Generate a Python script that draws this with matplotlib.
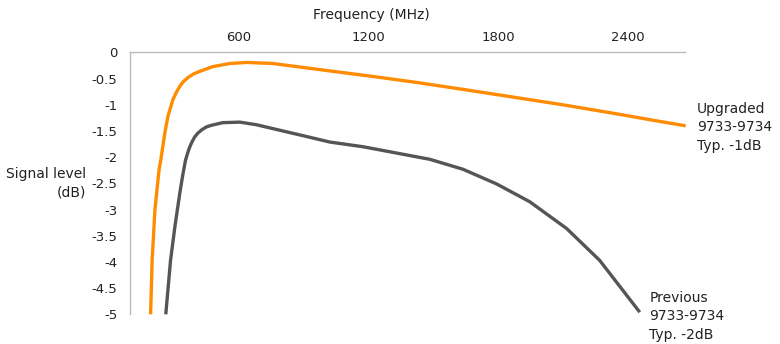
import matplotlib
matplotlib.use("Agg")
import matplotlib.pyplot as plt

# readings (MHz, dB)
upgraded_freq = [195, 202, 215, 234, 242, 261, 275, 298, 314, 330, 345, 367, 393,
                 422, 482, 561, 639, 759, 1000, 1207, 1420, 1622, 1850, 2100,
                 2330, 2545, 2665]
upgraded_db = [-5.0, -3.97, -3.0, -2.24, -2.05, -1.53, -1.22, -0.90, -0.76, -0.645,
               -0.56, -0.48, -0.41, -0.36, -0.27, -0.21, -0.19, -0.21, -0.34, -0.45,
               -0.57, -0.695, -0.84, -1.0, -1.16, -1.316, -1.40]

previous_freq = [265, 287, 307, 330, 343, 356, 366, 376, 387, 399, 413, 430, 453,
                 476, 528, 607, 684, 776, 900, 1022, 1176, 1330, 1484, 1637, 1792,
                 1945, 2115, 2268, 2453]
previous_db = [-5.0, -3.97, -3.33, -2.68, -2.35, -2.06, -1.92, -1.80, -1.70, -1.61,
               -1.54, -1.48, -1.42, -1.39, -1.34, -1.33, -1.38, -1.47, -1.59, -1.71,
               -1.80, -1.92, -2.04, -2.23, -2.51, -2.85, -3.36, -3.97, -4.96]

x_ticks = [600, 1200, 1800, 2400]
y_ticks = [0, -0.5, -1, -1.5, -2, -2.5, -3, -3.5, -4, -4.5, -5]
y_tick_labels = ["0", "-0.5", "-1", "-1.5", "-2", "-2.5", "-3", "-3.5", "-4", "-4.5", "-5"]

orange = "#ff8c00"
grey = "#555555"
fs = 9.5

fig = plt.figure(figsize=(7.8, 3.44), dpi=100)
ax = fig.add_axes([0.1667, 0.0863, 0.711, 0.7611])

ax.plot(upgraded_freq, upgraded_db, color=orange, lw=2.4, clip_on=False,
        solid_capstyle="butt", solid_joinstyle="round")
ax.plot(previous_freq, previous_db, color=grey, lw=2.4, clip_on=False,
        solid_capstyle="butt", solid_joinstyle="round")

ax.set_xlim(100, 2660)
ax.set_ylim(-5, 0)

ax.xaxis.tick_top()
ax.set_xticks(x_ticks)
ax.set_xticklabels([str(t) for t in x_ticks], fontsize=fs, color="#222222")
ax.set_yticks(y_ticks)
ax.set_yticklabels(y_tick_labels, fontsize=fs, color="#222222")
ax.tick_params(axis="both", length=0)
ax.tick_params(axis="x", pad=6)
ax.tick_params(axis="y", pad=9)

for side in ["right", "bottom"]:
    ax.spines[side].set_visible(False)
for side in ["top", "left"]:
    ax.spines[side].set_color("#bbbbbb")
    ax.spines[side].set_linewidth(1)

fig.text(371 / 780, 1 - 15 / 344, "Frequency (MHz)", ha="center", va="center",
         fontsize=fs + 0.5, color="#222222")
fig.text(86 / 780, 1 - 183 / 344, "Signal level\n(dB)", ha="right", va="center",
         fontsize=fs + 0.5, color="#222222", multialignment="right", linespacing=1.4)

ax.annotate("Upgraded\n9733-9734\nTyp. -1dB", xy=(upgraded_freq[-1], upgraded_db[-1]),
            xytext=(8, -1), textcoords="offset points", ha="left", va="center",
            fontsize=fs + 0.5, color="#222222", linespacing=1.4, annotation_clip=False)
ax.annotate("Previous\n9733-9734\nTyp. -2dB", xy=(previous_freq[-1], previous_db[-1]),
            xytext=(7, -3), textcoords="offset points", ha="left", va="center",
            fontsize=fs + 0.5, color="#222222", linespacing=1.4, annotation_clip=False)

fig.savefig("out.png", dpi=100)
